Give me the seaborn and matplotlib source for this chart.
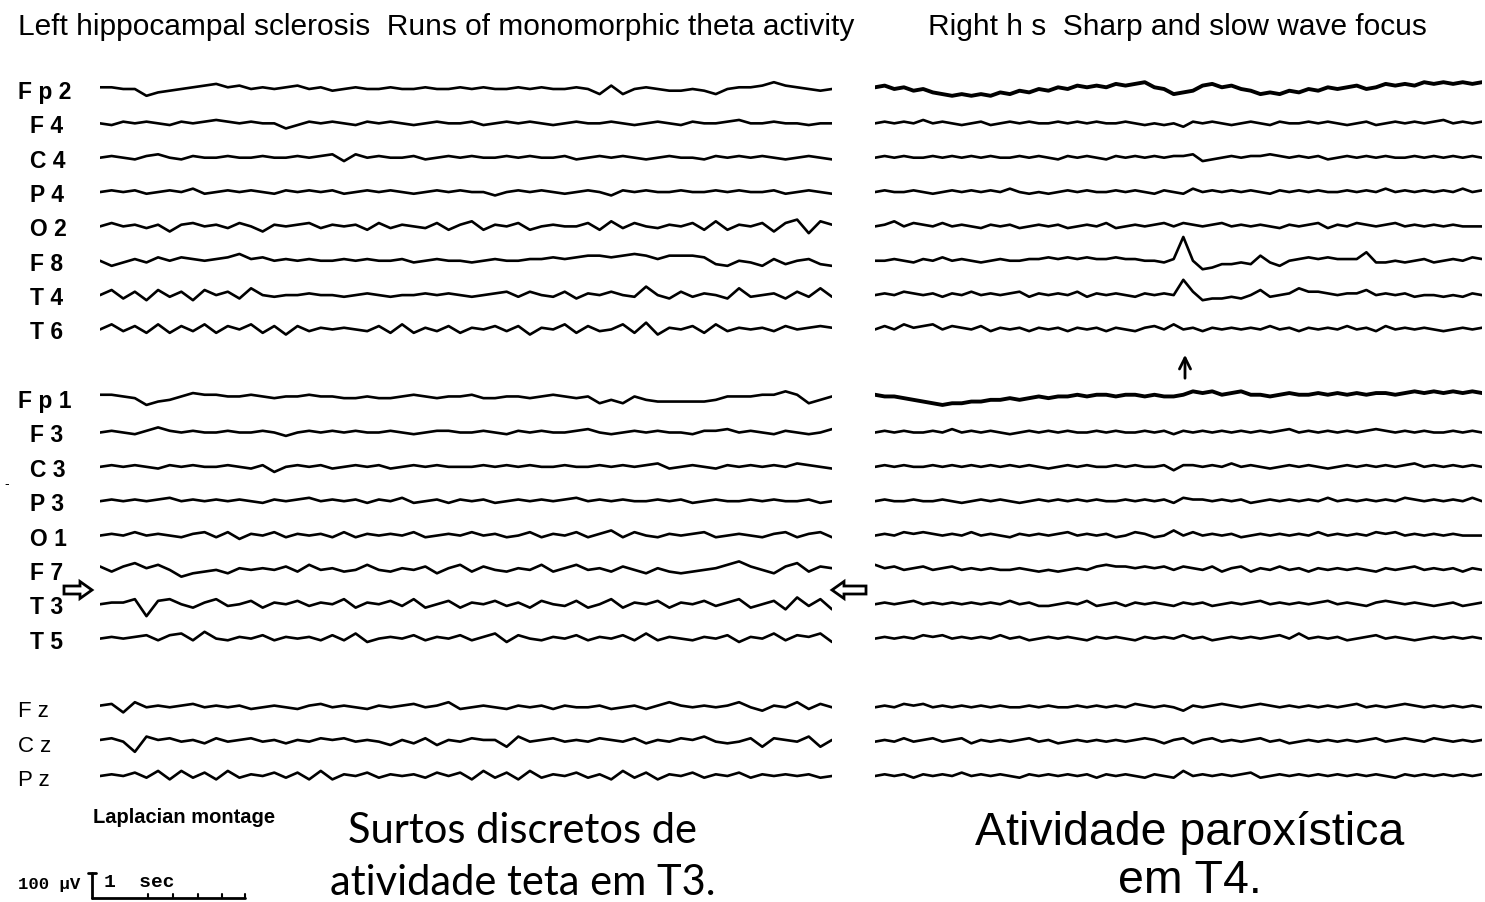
#!/usr/bin/env python3
"""
EEG figure: left hippocampal sclerosis (theta runs) vs right focus (sharp waves)
Laplacian montage, two panels of 19 channels each.
"""

import matplotlib
matplotlib.use("Agg")
import matplotlib.pyplot as plt
from matplotlib.patches import FancyArrow
import seaborn as sns
import pandas as pd
import numpy as np

sns.set_style("white")
plt.rcParams['font.family'] = ['Liberation Sans', 'DejaVu Sans']
plt.rcParams['text.color'] = 'black'

# montage rows (blank rows separate the three groups)
CHANNELS = ["Fp2", "F4", "C4", "P4", "O2", "F8", "T4", "T6",
            "Fp1", "F3", "C3", "P3", "O1", "F7", "T3", "T5",
            "Fz", "Cz", "Pz"]
ROWS = [0, 1, 2, 3, 4, 5, 6, 7,
        9, 10, 11, 12, 13, 14, 15, 16,
        18, 19, 20]
LABELS = ["F p 2", "F 4", "C 4", "P 4", "O 2", "F 8", "T 4", "T 6",
          "F p 1", "F 3", "C 3", "P 3", "O 1", "F 7", "T 3", "T 5",
          "F z", "C z", "P z"]

# ---- left panel traces (deflection, + is up) ----
L_FP2 = [1,1,0,0,-4,-2,-1,0,1,2, 3,1,2,0,1,0,1,2,0,1, -1,0,1,0,0,1,0,0,1,0,
         0,1,0,1,0,0,1,0,1,0, 0,1,0,-3,2,-3,0,1,0,-1, -1,0,-1,-3,0,1,1,2,4,2, 1,0,-1,0]
L_F4 = [0,-1,1,0,1,0,-1,1,0,1, 2,1,0,1,0,0,-3,-1,1,0, 1,0,-1,1,0,1,0,-1,0,1,
        0,0,1,-1,0,1,0,1,0,-1, 0,1,0,0,1,0,-1,0,1,0, -1,1,0,0,1,2,0,0,1,0, 0,-1,0,0]
L_C4 = [0,1,0,-1,1,2,0,-1,1,0, 0,1,0,0,1,0,0,1,0,1, 2,-2,2,0,1,0,0,1,-1,0,
        1,0,1,0,0,1,0,1,0,0, 1,-1,0,1,0,1,0,-1,0,1, 0,0,-1,1,0,1,0,1,0,-1, 0,1,0,-1]
L_P4 = [0,1,0,1,-1,0,1,0,2,-1, 0,1,0,1,0,-1,1,0,1,0, 1,-1,0,1,0,1,0,-1,0,1,
        0,1,0,0,-2,0,1,0,1,0, -1,0,1,0,-2,1,0,1,0,0, 1,0,0,1,0,1,0,0,1,-1, 0,1,0,-1]
L_O2 = [0,2,0,1,-1,1,-3,1,2,0, 1,-1,2,0,-3,1,0,1,2,-1, 1,0,1,-2,2,-1,1,0,-1,2,
        -2,1,3,-2,1,0,2,-2,0,1, 0,0,2,-2,3,-1,2,0,-1,1, 0,2,-2,3,-2,1,0,2,-3,2, 4,-4,3,1]
L_F8 = [0,-3,-1,1,-1,2,0,2,1,0, 1,2,4,1,2,0,1,0,1,0, 0,1,0,1,0,0,1,-1,0,1,
        0,0,-1,0,1,0,0,1,1,2, 1,2,3,3,2,3,4,3,1,3, 3,3,2,-2,-3,0,-1,-3,1,-2, 0,1,-2,-3]
L_T4 = [0,3,-2,2,-3,3,-1,2,-3,3, 0,2,-2,4,0,-1,0,0,1,0, 0,-1,0,1,0,-1,0,0,1,0,
        1,0,-1,0,1,2,-1,2,0,-1, 2,-2,1,0,2,0,-1,5,0,-2, 2,-1,1,0,-2,4,-1,0,1,-2, 2,-1,4,-1]
L_T6 = [0,3,-1,2,-2,3,-2,2,-1,3, -2,2,0,3,-2,2,-3,2,-1,1, 0,1,0,-1,2,-2,3,-2,1,-1,
        2,-2,1,0,2,-1,2,-3,1,0, 3,-2,2,-1,0,3,-2,4,-3,1, 0,2,-2,3,-1,1,0,1,-1,2, 0,1,2,1]
L_FP1 = [2,2,1,0,-4,-2,-1,1,3,2, 2,1,1,2,1,0,1,1,2,1, 1,0,0,1,0,0,1,2,1,0,
         1,1,2,0,0,1,1,0,1,2, 1,0,1,-3,-1,-3,1,-1,-2,-2, -2,-2,-2,-1,1,1,1,2,2,4, 2,-3,-1,1]
L_F3 = [0,1,0,-1,1,3,1,0,1,0, 0,1,0,0,1,0,-2,0,1,0, 1,0,1,0,0,1,0,-1,0,1,
        1,0,0,1,0,-1,1,0,1,0, 0,1,2,0,-1,0,1,0,1,0, 0,-1,1,1,2,0,1,0,-1,1, 0,-1,0,2]
L_C3 = [0,1,0,1,0,-1,1,0,1,0, 0,1,0,-1,1,-3,0,1,0,1, -1,0,1,0,1,-1,0,1,0,1,
        0,0,0,1,0,1,0,1,0,0, 1,0,0,1,0,1,0,1,2,-1, 0,1,0,-1,1,0,1,0,1,0, 2,1,0,-1]
L_P3 = [0,1,0,1,0,1,2,0,1,0, 1,0,1,0,-1,1,0,1,2,0, 1,0,1,-1,1,0,2,-1,0,1,
        -1,1,0,1,-1,0,1,0,1,0, 1,2,0,1,0,1,0,0,1,0, 1,-1,0,1,0,0,1,0,1,0, 0,1,-1,0]
L_O1 = [0,1,0,2,0,1,0,-1,1,2, -1,2,-2,1,0,2,-1,1,0,1, -1,2,-1,1,0,1,0,2,-1,0,
        1,0,2,0,1,-1,0,2,-1,1, 0,2,-1,1,3,-1,2,0,-1,1, 0,1,2,-1,0,1,0,-1,1,2, -1,1,2,-1]
L_F7 = [2,-1,2,4,1,3,0,-4,-2,-1, 0,-2,1,0,1,0,2,-1,3,0, 1,-1,0,3,0,-1,1,0,2,-2,
        1,3,-1,2,0,-1,1,0,3,-1, 1,3,0,1,-1,2,0,-2,1,-1, -2,-1,0,1,3,5,2,0,-2,2, 4,-1,2,1]
L_T3 = [0,1,1,3,-7,2,3,0,-2,1, 3,-1,0,2,-2,1,0,2,-1,1, 0,3,-2,1,0,2,-1,3,-2,0,
        2,-2,1,0,2,-1,1,-2,2,0, -1,2,-2,0,3,-2,1,0,2,-2, 1,0,2,-1,1,3,-2,0,2,-3, 4,-1,3,-3]
L_T5 = [0,1,0,1,2,-1,2,3,-1,4, 0,-1,1,0,2,-1,1,0,1,-1, 2,-1,3,-2,0,1,0,2,-1,1,
        0,2,-1,1,3,-2,2,0,-1,1, 0,2,-1,1,0,2,-1,3,-1,1, 0,-1,1,0,2,-2,1,0,3,-1, 2,1,3,-2]
L_FZ = [1,2,-3,3,0,1,0,1,2,0, 1,0,1,-1,0,1,0,-1,1,2, 0,1,0,-1,1,0,1,2,0,1,
        3,-1,0,1,0,-1,1,0,1,-1, 1,0,0,1,-1,0,1,-1,1,3, 1,0,1,0,1,3,0,-2,1,0, 3,-1,2,0]
L_CZ = [1,2,0,-6,3,1,2,0,1,-1, 2,0,1,2,0,1,-1,1,0,2, 1,2,0,1,0,-2,1,-1,2,-2,
        1,0,2,1,1,-3,3,0,1,2, 0,1,0,2,1,0,2,-1,1,0, 2,1,3,0,-1,0,2,-3,2,1, 0,3,-3,1]
L_PZ = [0,1,0,2,-1,3,-2,3,-1,2, -2,3,-1,1,0,2,-1,2,-2,3, -2,1,0,2,-1,1,0,1,-1,2,
        0,2,-2,3,-1,2,-2,3,-1,1, 0,2,-1,1,-2,3,-1,2,-2,1, 0,2,-1,1,0,2,-1,1,0,1, 0,1,-1,0]

# ---- right panel traces ----
R_FP2 = [1,2,0,1,-1,0,-2,-3,-4,-3, -4,-3,-4,-2,-3,-1,-2,0,-1,1, 0,2,1,2,1,3,2,3,4,1,
         0,-3,-2,-1,2,3,1,2,0,-1, -3,-2,-3,-1,-2,0,-1,1,0,1, 2,0,1,3,2,3,2,4,3,4, 3,4,3,4]
R_F4 = [0,1,0,1,0,2,0,1,0,-1, 0,1,-1,0,1,0,1,0,0,1, 0,1,0,1,0,0,1,0,-1,0,
        -1,0,-2,1,0,1,0,-1,0,1, 0,-1,1,0,0,1,0,1,0,-1, 0,1,-1,0,1,0,1,0,1,2, 0,1,0,1]
R_C4 = [0,1,0,1,0,0,1,0,1,0, 1,0,1,0,0,1,0,1,0,-1, 1,0,1,0,-1,1,0,1,0,1,
        0,1,1,2,-2,-1,0,1,0,1, 1,2,1,0,1,0,1,-1,0,1, 0,1,0,1,0,0,1,0,1,0, 1,0,1,0]
R_P4 = [0,1,0,0,1,0,-1,0,1,0, 1,0,1,0,2,0,-1,0,-1,0, 1,0,1,0,0,1,0,1,0,-1,
        1,0,-1,2,0,1,0,1,0,1, 0,-1,1,0,1,0,1,0,0,1, 0,1,0,2,0,1,0,1,0,1, 0,2,0,1]
R_O2 = [0,1,3,0,2,1,0,2,0,1, 0,-1,1,0,1,-1,0,1,0,1, -1,0,1,0,2,-1,0,1,0,1,
        2,0,2,1,0,1,2,0,1,0, 1,0,-1,1,0,1,2,-1,1,0, 2,1,0,1,2,0,1,0,1,0, 1,0,0,0]
R_F8 = [0,0,1,0,-1,1,0,2,0,1, 0,-1,0,1,0,0,1,1,2,1, 2,1,2,1,1,2,1,1,0,0,
        -1,1,14,0,-5,-4,-2,-2,-1,-2, 3,-1,-3,0,1,2,1,2,1,1, 1,5,-1,-1,0,-1,0,1,-1,0, 1,0,2,1]
R_T4 = [0,1,0,2,1,0,1,-1,1,0, 2,0,1,0,1,2,-1,1,0,1, 0,2,-1,1,0,1,0,-1,1,0,
        1,0,9,2,-3,-2,-2,-1,-2,0, 3,-1,0,1,4,2,2,1,0,1, 1,3,0,1,0,1,-1,0,0,-1, 0,-1,1,0]
R_T6 = [0,2,0,3,1,2,3,0,2,1, 0,2,-1,1,0,1,-1,1,0,1, -1,1,0,1,-1,1,0,-1,1,2,
        0,3,0,1,-1,1,0,1,0,1, 0,2,0,1,-1,1,0,1,0,2, 0,1,-1,2,0,1,0,1,0,-1, 0,1,0,1]
R_FP1 = [2,1,1,0,-1,-2,-3,-4,-3,-3, -2,-2,-1,-1,0,-1,0,1,0,1, 1,2,1,2,2,1,2,2,1,2,
         1,1,2,4,3,4,2,3,4,2, 2,1,2,3,2,2,3,2,3,2, 3,2,3,3,2,3,4,3,4,3, 4,3,4,3]
R_F3 = [0,1,0,1,0,0,1,0,2,0, 1,0,1,0,-1,0,1,0,1,0, 1,0,0,1,0,1,0,0,1,0,
        1,-1,1,0,1,0,1,0,1,0, 1,0,1,2,0,1,0,1,0,1, 0,1,2,1,0,1,0,1,0,0, 1,0,1,0]
R_C3 = [0,1,0,1,0,0,1,0,1,0, 1,0,1,0,1,0,1,0,-1,0, 1,0,1,0,0,1,0,1,0,0,
        1,-2,1,1,0,1,0,2,0,1, 0,-1,0,1,0,1,0,-1,0,1, 0,1,0,1,0,1,2,0,1,0, 1,0,1,0]
R_P3 = [0,1,0,0,1,0,0,1,0,-1, 0,1,0,1,0,-1,0,1,0,1, 0,1,0,1,0,0,1,0,1,0,
        1,-1,2,1,1,0,1,0,1,-1, 0,1,0,1,0,1,0,2,0,1, 0,1,0,1,0,2,1,0,1,0, 1,0,2,0]
R_O1 = [0,1,0,2,1,2,1,0,1,0, 2,0,1,0,-1,1,0,1,0,1, 2,0,1,0,1,-1,0,2,1,-1,
        0,3,0,2,0,1,0,1,-1,0, 1,0,1,0,1,0,2,0,1,0, 1,0,2,1,2,0,1,0,1,0, 1,0,0,0]
R_F7 = [3,1,2,0,1,2,0,1,2,0, 1,0,1,0,0,1,0,-1,0,-1, 0,1,0,2,3,2,2,1,2,1,
        2,0,2,1,0,2,-1,1,2,-1, 1,0,2,0,1,-1,1,0,1,0, 1,0,-1,1,0,1,2,0,1,0, 1,-1,1,0]
R_T3 = [0,1,0,1,2,0,1,0,1,0, 1,0,1,0,2,0,1,-1,-1,0, 1,0,2,-1,0,1,-1,1,0,1,
        0,-1,1,0,1,-1,0,1,0,1, 2,0,1,0,1,0,1,2,0,1, 0,-1,1,2,1,0,1,0,-1,0, 1,-1,0,1]
R_T5 = [0,1,0,1,0,2,1,2,0,1, 0,1,0,2,0,1,-1,0,1,0, 1,0,-1,1,0,1,0,-1,1,0,
        1,0,2,0,1,-1,0,1,0,1, 0,1,2,0,3,0,1,0,1,-1, 0,1,2,0,1,0,-1,0,1,0, 1,0,1,0]
R_FZ = [0,1,0,2,1,2,0,1,0,1, 0,1,0,1,0,0,1,0,1,0, 0,1,0,1,0,1,0,2,1,0,
        1,0,-2,1,0,1,2,1,0,1, 2,1,0,1,0,1,0,1,0,1, 2,0,1,0,1,2,1,0,1,0, 1,0,1,0]
R_CZ = [0,1,0,2,0,1,2,0,1,2, -1,1,0,1,0,1,2,0,1,-1, 0,1,0,1,0,1,0,1,2,1,
        -1,1,2,-1,1,2,0,1,0,1, 2,0,1,-1,0,1,0,1,0,1, 0,1,2,0,1,2,1,0,2,1, 0,1,0,1]
R_PZ = [0,1,0,1,-1,1,0,1,0,2, 0,1,0,1,0,-1,1,0,1,0, 1,0,1,-1,1,0,1,0,-1,1,
        0,-1,3,0,1,0,1,0,1,2, -1,0,1,0,1,0,1,0,1,0, 1,0,1,0,-1,1,0,1,0,1, 0,1,0,1]

LEFT = [L_FP2, L_F4, L_C4, L_P4, L_O2, L_F8, L_T4, L_T6,
        L_FP1, L_F3, L_C3, L_P3, L_O1, L_F7, L_T3, L_T5,
        L_FZ, L_CZ, L_PZ]
RIGHT = [R_FP2, R_F4, R_C4, R_P4, R_O2, R_F8, R_T4, R_T6,
         R_FP1, R_F3, R_C3, R_P3, R_O1, R_F7, R_T3, R_T5,
         R_FZ, R_CZ, R_PZ]

# page geometry (pixels)
W, H = 1485, 902
TOP_ROW_PX = 89
PX_PER_ROW = 34.35
GAIN = 1.7  # px per unit of deflection
MONO = ['Liberation Mono', 'DejaVu Sans Mono']


def build_frame(traces):
    """Long table: one line per channel, offset to its montage row"""
    parts = []
    for ch, row, amp in zip(CHANNELS, ROWS, traces):
        amp = np.asarray(amp, dtype=float)
        parts.append(pd.DataFrame({
            't': np.linspace(0, 1, len(amp)),
            'y': row - amp * GAIN / PX_PER_ROW,
            'channel': ch,
        }))
    return pd.concat(parts, ignore_index=True)


def row_px(row):
    return TOP_ROW_PX + row * PX_PER_ROW


fig = plt.figure(figsize=(W / 100, H / 100), dpi=100)

# overlay in pixel coordinates for text and markers
ov = fig.add_axes([0, 0, 1, 1])
ov.set_xlim(0, W)
ov.set_ylim(H, 0)
ov.axis('off')

y_lo = (H - TOP_ROW_PX) / PX_PER_ROW
y_hi = -TOP_ROW_PX / PX_PER_ROW

panels = [
    (LEFT, [100 / W, 0, 732 / W, 1]),
    (RIGHT, [875 / W, 0, 607 / W, 1]),
]
for traces, rect in panels:
    ax = fig.add_axes(rect)
    df = build_frame(traces)
    for ch in CHANNELS:
        lw = 2.8 if ch.startswith('Fp') and traces is RIGHT else 1.9
        sns.lineplot(data=df[df['channel'] == ch], x='t', y='y', color='black',
                     lw=lw, estimator=None, sort=False, ax=ax, legend=False,
                     solid_joinstyle='round')
    ax.set_xlim(0, 1)
    ax.set_ylim(y_lo, y_hi)
    ax.axis('off')

# channel labels
for label, row in zip(LABELS, ROWS):
    y = row_px(row) + 10
    if label in ("F z", "C z", "P z"):
        ov.text(18, y, label, fontsize=16, va='baseline', ha='left')
    else:
        x = 18 if label.startswith('F p') else 30
        ov.text(x, y, label, fontsize=16.5, fontweight='bold', va='baseline', ha='left')

# titles
ov.text(18, 35, "Left hippocampal sclerosis  Runs of monomorphic theta activity",
        fontsize=21.5, ha='left', va='baseline')
ov.text(928, 35, "Right h s  Sharp and slow wave focus",
        fontsize=21.5, ha='left', va='baseline')

# hollow arrows pointing at T3, arrow under the right sharp wave
ov.add_patch(FancyArrow(64, 590, 28, 0, width=8, head_width=17, head_length=12,
                        length_includes_head=True, fc='white', ec='black', lw=2))
ov.add_patch(FancyArrow(866, 590, -34, 0, width=8, head_width=17, head_length=12,
                        length_includes_head=True, fc='white', ec='black', lw=2))
ov.annotate('', xy=(1185, 352), xytext=(1185, 381),
            arrowprops=dict(arrowstyle='->', lw=2, color='black', mutation_scale=20))
ov.text(7, 484, '-', fontsize=10, ha='center', va='center')

# montage note and calibration
ov.text(93, 823, "Laplacian montage", fontsize=14.5, fontweight='bold',
        ha='left', va='baseline')
ov.text(18, 889, "100 µV", fontsize=12.5, family=MONO, fontweight='bold',
        ha='left', va='baseline')
ov.text(104, 887, "1  sec", fontsize=14, family=MONO, fontweight='bold',
        ha='left', va='baseline')
ov.plot([92, 92], [873, 898], color='black', lw=2)
ov.plot([88, 96], [873, 873], color='black', lw=2)
ov.plot([92, 245], [898, 898], color='black', lw=2)
for tx in [148, 173, 198, 222, 245]:
    ov.plot([tx, tx], [898, 894], color='black', lw=1.5)

# captions
ov.text(523, 843, "Surtos discretos de", fontsize=30, family=['Lato', 'DejaVu Sans'],
        ha='center', va='baseline')
ov.text(523, 895, "atividade teta em T3.", fontsize=30, family=['Lato', 'DejaVu Sans'],
        ha='center', va='baseline')
ov.text(1190, 845, "Atividade paroxística", fontsize=33.5, ha='center', va='baseline')
ov.text(1190, 893, "em T4.", fontsize=33.5, ha='center', va='baseline')

fig.savefig('out.png', dpi=100)
plt.close(fig)
